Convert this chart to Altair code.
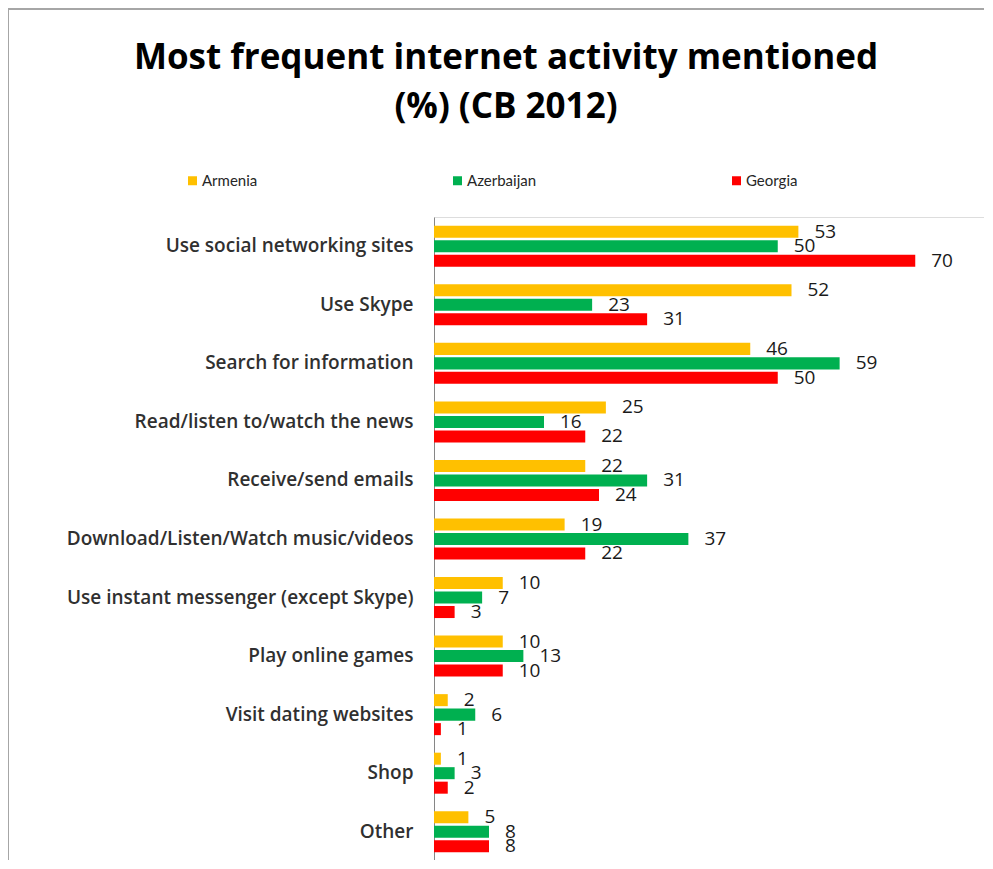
import altair as alt
import pandas as pd

categories = [
    "Use social networking sites",
    "Use Skype",
    "Search for information",
    "Read/listen to/watch the news",
    "Receive/send emails",
    "Download/Listen/Watch music/videos",
    "Use instant messenger (except Skype)",
    "Play online games",
    "Visit dating websites",
    "Shop",
    "Other",
]
countries = ["Armenia", "Azerbaijan", "Georgia"]
armenia = [53, 52, 46, 25, 22, 19, 10, 10, 2, 1, 5]
azerbaijan = [50, 23, 59, 16, 31, 37, 7, 13, 6, 3, 8]
georgia = [70, 31, 50, 22, 24, 22, 3, 10, 1, 2, 8]
colors = ["#FFC000", "#00B050", "#FF0000"]
title_lines = ["Most frequent internet activity mentioned", "(%) (CB 2012)"]

rows = []
for i, cat in enumerate(categories):
    for c, vals in zip(countries, [armenia, azerbaijan, georgia]):
        rows.append({"activity": cat, "country": c, "value": vals[i]})
df = pd.DataFrame(rows)

FONT = "Lato"
LFONT = "Open Sans"

y_enc = alt.Y(
    "activity:N",
    sort=categories,
    title=None,
    scale=alt.Scale(paddingInner=0.26, paddingOuter=0.13, range=[0, 644]),
    axis=alt.Axis(
        ticks=False,
        grid=False,
        domainColor="#868686",
        domainWidth=1,
        labelFont=LFONT,
        labelFontSize=19,
        labelFontWeight=600,
        labelColor="#303030",
        labelPadding=21,
        labelLimit=500,
    ),
)
yoff = alt.YOffset(
    "country:N",
    sort=countries,
    scale=alt.Scale(paddingInner=0.17, paddingOuter=0.08),
)
x_enc = alt.X("value:Q", axis=None, scale=alt.Scale(domain=[0, 80], nice=False))

bars = alt.Chart(df).mark_bar().encode(
    y=y_enc,
    yOffset=yoff,
    x=x_enc,
    color=alt.Color(
        "country:N",
        sort=countries,
        scale=alt.Scale(domain=countries, range=colors),
        legend=alt.Legend(
            title=None,
            orient="none",
            direction="horizontal",
            legendX=-249,
            legendY=-44,
            symbolType="square",
            symbolSize=81,
            symbolStrokeWidth=0,
            labelFont=FONT,
            labelFontSize=15,
            labelColor="#262626",
            labelOffset=2,
            columnPadding=192,
        ),
    ),
)

labels = alt.Chart(df).mark_text(
    align="left", baseline="middle", dx=16, font=LFONT, fontSize=19, color="#1a1a1a"
).encode(
    y=alt.Y("activity:N", sort=categories),
    yOffset=alt.YOffset("country:N", sort=countries),
    x="value:Q",
    text="value:Q",
)

one = pd.DataFrame([{"k": 1}])
title = alt.Chart(one).mark_text(
    font=LFONT,
    fontSize=35,
    fontWeight="bold",
    color="#000000",
    align="center",
    baseline="middle",
    lineHeight=49,
).encode(
    x=alt.value(72),
    y=alt.value(-159),
    text=alt.value(title_lines),
)

top_line = alt.Chart(one).mark_rule(color="#a6a6a6", strokeWidth=2).encode(
    x=alt.value(-428), x2=alt.value(560), y=alt.value(-208)
)
left_line = alt.Chart(one).mark_rule(color="#a6a6a6", strokeWidth=2).encode(
    x=alt.value(-426), y=alt.value(-208), y2=alt.value(660)
)

chart = (
    alt.layer(bars, labels, title, top_line, left_line)
    .properties(
        width=550,
        height=643,
        padding={"left": 426, "top": 209, "right": 0, "bottom": 0},
        autosize=alt.AutoSizeParams(type="none"),
    )
    .configure_view(stroke=None)
    .configure(background="white")
)

chart.save("out.html", embed_options={"renderer": "svg", "actions": False})
